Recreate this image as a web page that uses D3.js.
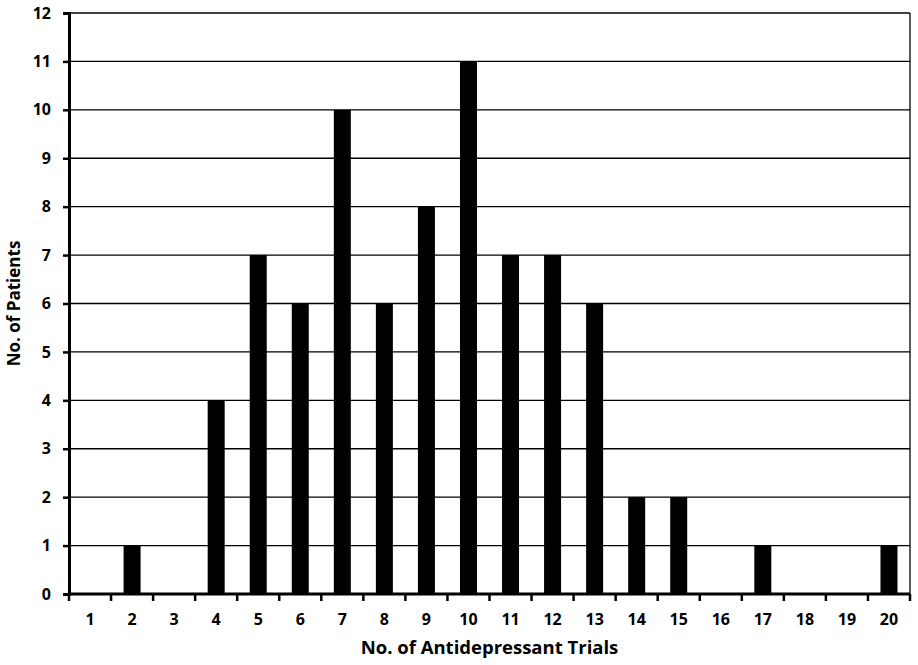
<!DOCTYPE html>
<html><head><meta charset="utf-8">
<script src="https://cdn.jsdelivr.net/npm/d3@7"></script>
<style>body{margin:0;background:#fff}</style>
</head><body>
<svg id="c" width="918" height="665"></svg>
<script>
const categories = ["1","2","3","4","5","6","7","8","9","10","11","12","13","14","15","16","17","18","19","20"];
const patients = [0,1,0,4,7,6,10,6,8,11,7,7,6,2,2,0,1,0,0,1];
const yTicks = [0,1,2,3,4,5,6,7,8,9,10,11,12];

const svg = d3.select("#c");
const m = {left:69, right:910, top:13, bottom:594};
const font = "'Open Sans', 'Liberation Sans', sans-serif";

const xb = d3.scaleBand().domain(categories).range([m.left, m.right]);
const y = d3.scaleLinear().domain([0,12]).range([m.bottom, m.top]);

// gridlines
svg.append("g").selectAll("line").data(yTicks.filter(d=>d>0)).join("line")
  .attr("x1", m.left).attr("x2", m.right)
  .attr("y1", d=>y(d)).attr("y2", d=>y(d))
  .attr("stroke","#000").attr("stroke-width",1.3);
// right border
svg.append("line").attr("x1",m.right).attr("x2",m.right).attr("y1",m.top).attr("y2",m.bottom)
  .attr("stroke","#000").attr("stroke-width",1.3);

// bars
svg.append("g").selectAll("rect").data(categories).join("rect")
  .attr("x", (d)=> xb(d) + xb.bandwidth()/2 - 8.5)
  .attr("width", 17)
  .attr("y", (d,i)=>y(patients[i]))
  .attr("height", (d,i)=>y(0)-y(patients[i]))
  .attr("fill","#000");

// y axis
const ya = svg.append("g").attr("transform",`translate(${m.left},0)`)
  .call(d3.axisLeft(y).tickValues(yTicks).tickSize(6).tickPadding(12).tickFormat(d3.format("d")));
ya.select(".domain").attr("stroke-width",3);
ya.selectAll(".tick line").attr("stroke-width",2.5);
ya.selectAll("text").attr("font-family",font).attr("font-weight","bold").attr("font-size",16).attr("fill","#000");

// x axis
const xa = svg.append("g").attr("transform",`translate(0,${m.bottom})`)
  .call(d3.axisBottom(xb).tickSize(0).tickPadding(20));
xa.select(".domain").attr("stroke-width",3).attr("d",`M${m.left},0H${m.right}`);
xa.selectAll("text").attr("font-family",font).attr("font-weight","bold").attr("font-size",16).attr("fill","#000");
// boundary ticks
const bounds = categories.map(c=>xb(c)).concat([m.right]);
svg.append("g").selectAll("line").data(bounds).join("line")
  .attr("x1",d=>d).attr("x2",d=>d).attr("y1",m.bottom).attr("y2",m.bottom+7)
  .attr("stroke","#000").attr("stroke-width",2.5);

// titles
svg.append("text").attr("x",(m.left+m.right)/2).attr("y",654).attr("text-anchor","middle")
  .attr("font-family",font).attr("font-weight","bold").attr("font-size",18.5).text("No. of Antidepressant Trials");
svg.append("text").attr("transform",`translate(20,${(m.top+m.bottom)/2}) rotate(-90)`).attr("text-anchor","middle")
  .attr("font-family",font).attr("font-weight","bold").attr("font-size",17).text("No. of Patients");
</script>
</body></html>
